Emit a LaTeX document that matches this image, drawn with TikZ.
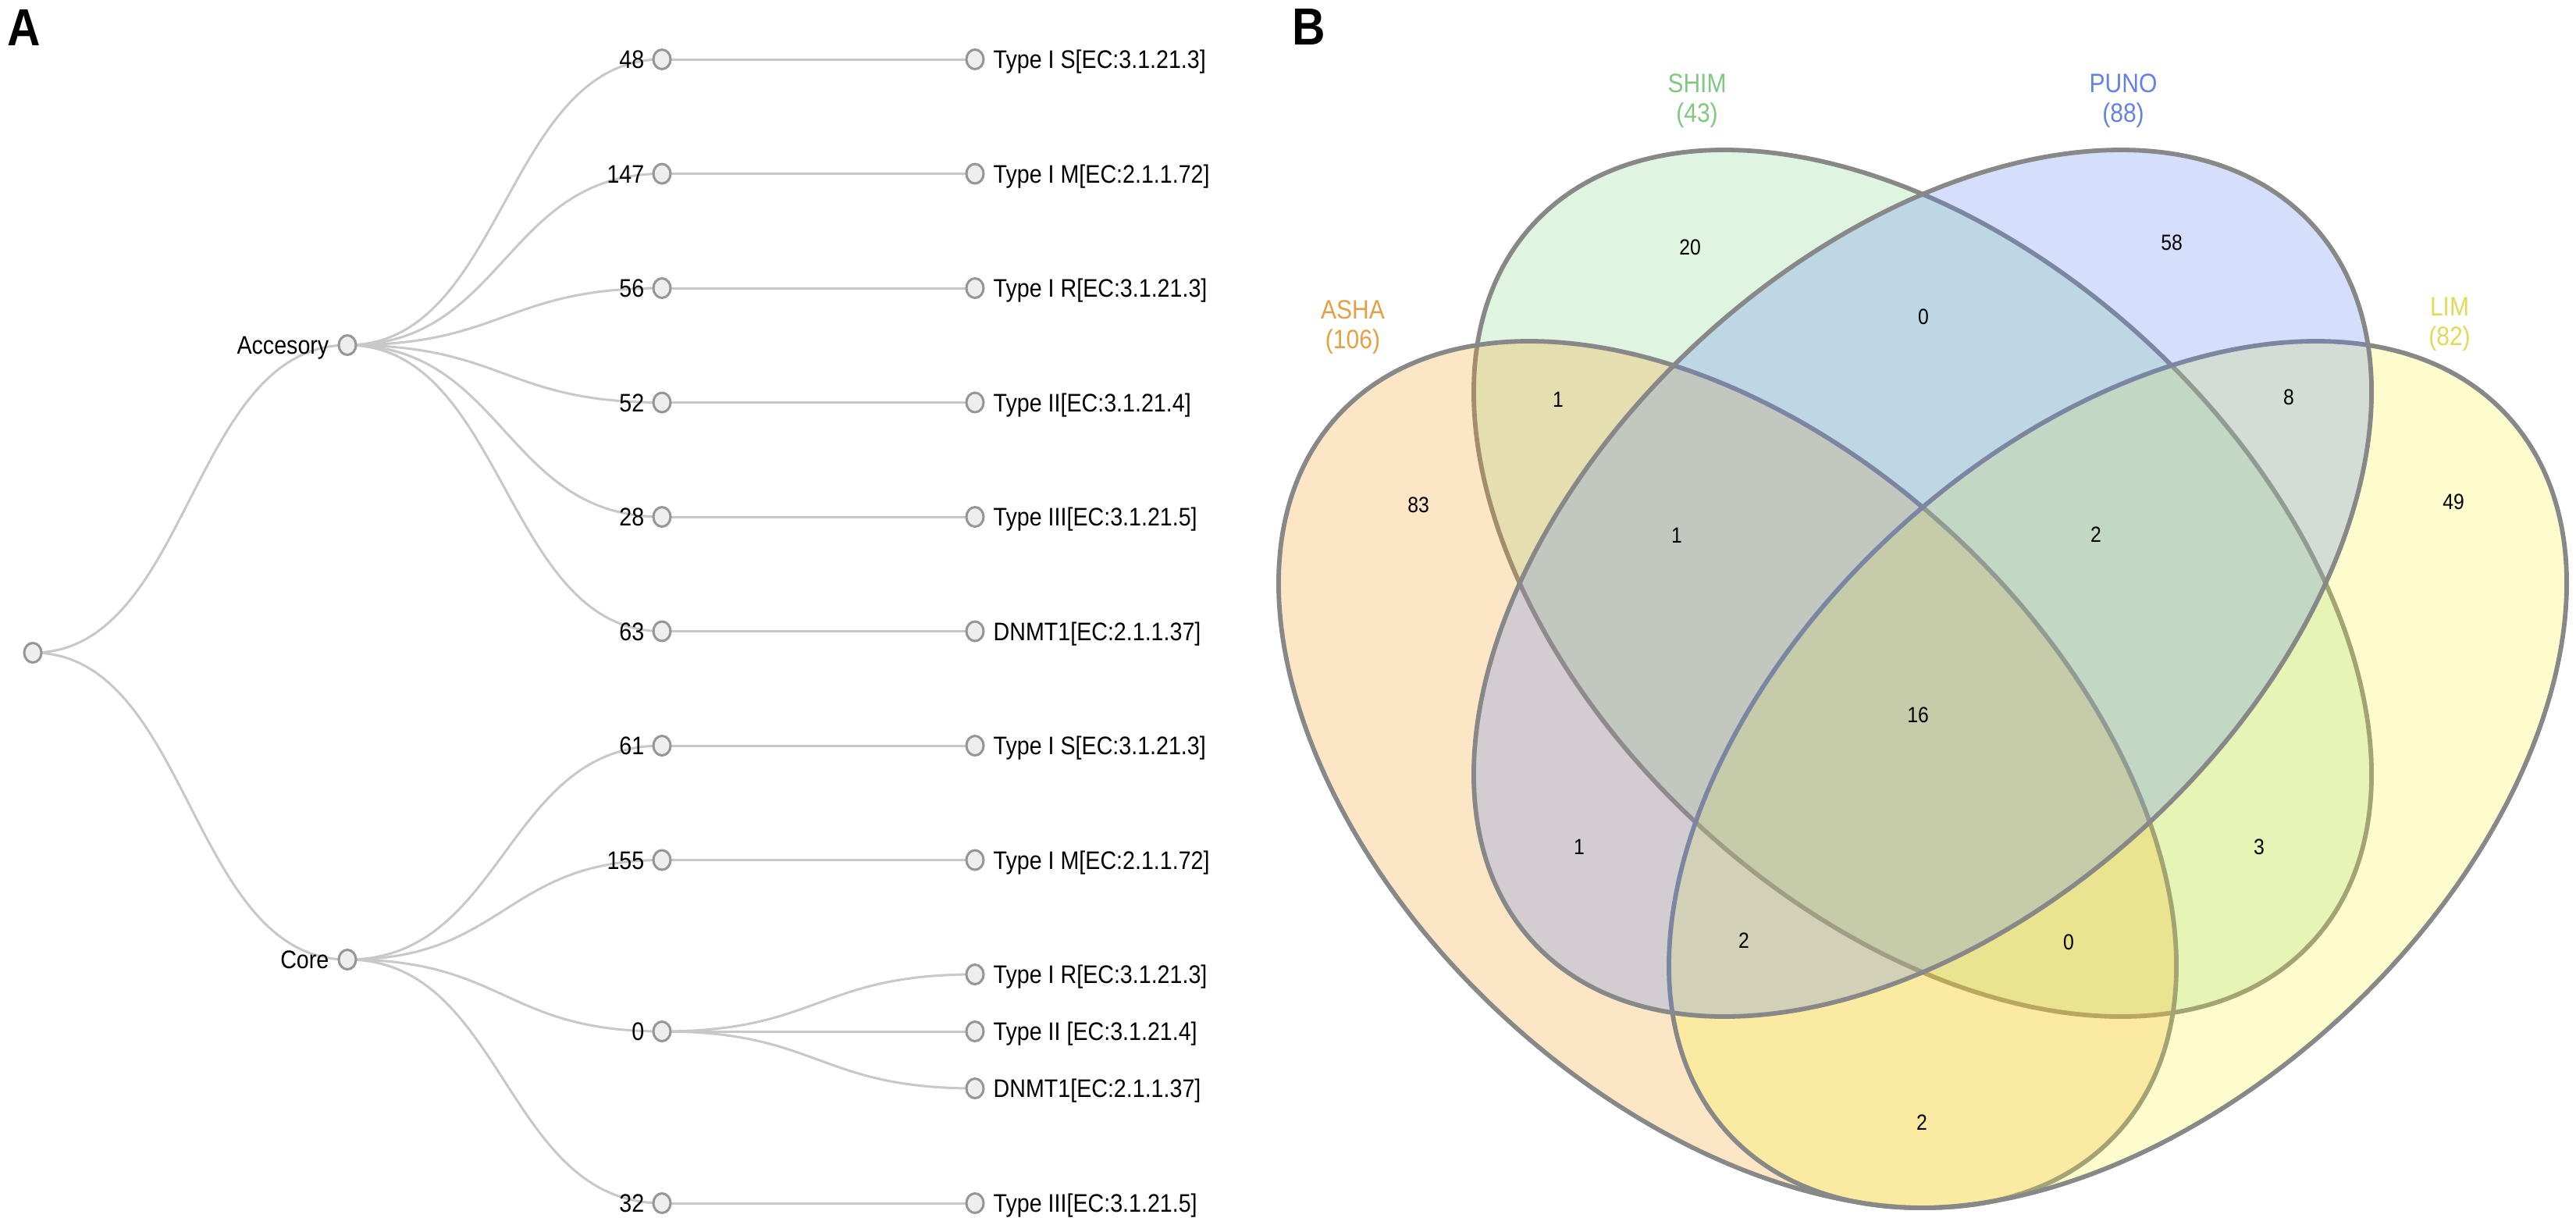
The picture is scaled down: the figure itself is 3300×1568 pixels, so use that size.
\documentclass[tikz,border=0pt]{standalone}
\usepackage{fontspec}
\setmainfont{Liberation Sans}[FakeStretch=0.88]
\usetikzlibrary{shapes.geometric,backgrounds}
\definecolor{linkc}{HTML}{C8C8C8}
\definecolor{nodefill}{HTML}{EEEEEE}
\definecolor{nodedraw}{HTML}{969696}
\definecolor{ashac}{RGB}{247,159,31}
\definecolor{shimc}{RGB}{131,215,139}
\definecolor{punoc}{RGB}{91,131,243}
\definecolor{limc}{RGB}{251,247,55}
\definecolor{ashat}{RGB}{228,160,68}
\definecolor{shimt}{RGB}{128,200,128}
\definecolor{punot}{RGB}{100,130,226}
\definecolor{limt}{RGB}{224,218,86}
\definecolor{vennline}{HTML}{888888}
\begin{document}
\begin{tikzpicture}[x=0.01cm,y=-0.01cm,
  tnode/.style={shape=ellipse,draw=nodedraw,fill=nodefill,line width=0.03cm,minimum width=0.22cm,minimum height=0.25cm,inner sep=0pt},
  link/.style={draw=linkc,line width=0.03cm},
  diag/.style={out=0,in=180,distance=2.015cm},
  tlab/.style={font=\fontsize{9.25}{11}\selectfont,inner sep=0pt},
  numlab/.style={tlab,anchor=base east},
  leaflab/.style={tlab,anchor=base west},
  panel/.style={font=\fontsize{19}{22}\selectfont\bfseries,inner sep=0pt,anchor=base west},
  vset/.style={line width=0.058cm,draw=vennline,fill opacity=0.25},
  vnum/.style={font=\fontsize{8}{9}\selectfont,inner sep=0pt},
  vlab/.style={font=\fontsize{9.7}{11}\selectfont,inner sep=0pt,anchor=base},
]
\useasboundingbox (0,0) rectangle (3300,1568);

% ---------------- Panel A : tree ----------------
\node[panel] (labA) at (9,58) {A};

\node[tnode] (root) at (42,836) {};
\node[tnode] (acc) at (445,442) {};
\node[tnode] (core) at (445,1229) {};

\node[tnode] (a1) at (848,76) {};
\node[tnode] (a2) at (848,222.5) {};
\node[tnode] (a3) at (848,369) {};
\node[tnode] (a4) at (848,515.5) {};
\node[tnode] (a5) at (848,662) {};
\node[tnode] (a6) at (848,808.5) {};
\node[tnode] (c1) at (848,955) {};
\node[tnode] (c2) at (848,1101.5) {};
\node[tnode] (c3) at (848,1321) {};
\node[tnode] (c4) at (848,1541) {};

\node[tnode] (la1) at (1249,76) {};
\node[tnode] (la2) at (1249,222.5) {};
\node[tnode] (la3) at (1249,369) {};
\node[tnode] (la4) at (1249,515.5) {};
\node[tnode] (la5) at (1249,662) {};
\node[tnode] (la6) at (1249,808.5) {};
\node[tnode] (lc1) at (1249,955) {};
\node[tnode] (lc2) at (1249,1101.5) {};
\node[tnode] (lc3) at (1249,1248) {};
\node[tnode] (lc4) at (1249,1321) {};
\node[tnode] (lc5) at (1249,1394) {};
\node[tnode] (lc6) at (1249,1541) {};

\begin{scope}[on background layer]
  \fill[white] (0,0) rectangle (3300,1568);
  \draw[link] (root.center) to[diag] (acc.center);
  \draw[link] (root.center) to[diag] (core.center);
  \foreach \t in {a1,a2,a3,a4,a5,a6} \draw[link] (acc.center) to[diag] (\t.center);
  \foreach \t in {c1,c2,c3,c4} \draw[link] (core.center) to[diag] (\t.center);
  \foreach \s/\t in {a1/la1,a2/la2,a3/la3,a4/la4,a5/la5,a6/la6,c1/lc1,c2/lc2,c3/lc3,c3/lc4,c3/lc5,c4/lc6}
    \draw[link] (\s.center) to[diag] (\t.center);
\end{scope}

\node[numlab] (tacc) at (422,453.6) {Accesory};
\node[numlab] (tcore) at (422,1240.6) {Core};

\node[numlab] (na1) at (826,87.6) {48};
\node[numlab] (na2) at (826,234.1) {147};
\node[numlab] (na3) at (826,380.6) {56};
\node[numlab] (na4) at (826,527.1) {52};
\node[numlab] (na5) at (826,673.6) {28};
\node[numlab] (na6) at (826,820.1) {63};
\node[numlab] (nc1) at (826,966.6) {61};
\node[numlab] (nc2) at (826,1113.1) {155};
\node[numlab] (nc3) at (826,1332.6) {0};
\node[numlab] (nc4) at (826,1552.6) {32};

\node[leaflab] (ta1) at (1272,87.6) {Type I S[EC:3.1.21.3]};
\node[leaflab] (ta2) at (1272,234.1) {Type I M[EC:2.1.1.72]};
\node[leaflab] (ta3) at (1272,380.6) {Type I R[EC:3.1.21.3]};
\node[leaflab] (ta4) at (1272,527.1) {Type II[EC:3.1.21.4]};
\node[leaflab] (ta5) at (1272,673.6) {Type III[EC:3.1.21.5]};
\node[leaflab] (ta6) at (1272,820.1) {DNMT1[EC:2.1.1.37]};
\node[leaflab] (tc1) at (1272,966.6) {Type I S[EC:3.1.21.3]};
\node[leaflab] (tc2) at (1272,1113.1) {Type I M[EC:2.1.1.72]};
\node[leaflab] (tc3) at (1272,1259.6) {Type I R[EC:3.1.21.3]};
\node[leaflab] (tc4) at (1272,1332.6) {Type II [EC:3.1.21.4]};
\node[leaflab] (tc5) at (1272,1405.6) {DNMT1[EC:2.1.1.37]};
\node[leaflab] (tc6) at (1272,1552.6) {Type III[EC:3.1.21.5]};

% ---------------- Panel B : Venn ----------------
\node[panel] (labB) at (1655,57) {B};

\path[vset,fill=shimc,rotate around={-42.7:(2463,747)}] (2463,747) ellipse [x radius=678.5,y radius=422.2];
\path[vset,fill=ashac,rotate around={-42.7:(2213,992)}] (2213,992) ellipse [x radius=678.5,y radius=422.2];
\path[vset,fill=limc,rotate around={42.7:(2713,992)}] (2713,992) ellipse [x radius=678.5,y radius=422.2];
\path[vset,fill=punoc,rotate around={42.7:(2463,747)}] (2463,747) ellipse [x radius=678.5,y radius=422.2];

\node[vlab,text=ashat] (nasha) at (1733,408) {ASHA};
\node[vlab,text=ashat] (casha) at (1733,446) {(106)};
\node[vlab,text=shimt] (nshim) at (2174,118) {SHIM};
\node[vlab,text=shimt] (cshim) at (2174,156) {(43)};
\node[vlab,text=punot] (npuno) at (2720,118) {PUNO};
\node[vlab,text=punot] (cpuno) at (2720,156) {(88)};
\node[vlab,text=limt] (nlim) at (3138,404) {LIM};
\node[vlab,text=limt] (clim) at (3138,442) {(82)};

\node[vnum] (v20) at (2165,317) {20};
\node[vnum] (v58) at (2782,311) {58};
\node[vnum] (vsp) at (2464,406) {0};
\node[vnum] (vas) at (1996,512) {1};
\node[vnum] (vpl) at (2932,509) {8};
\node[vnum] (v83) at (1817,647) {83};
\node[vnum] (v49) at (3143,643) {49};
\node[vnum] (vasp) at (2148,686) {1};
\node[vnum] (vspl) at (2685,685) {2};
\node[vnum] (v16) at (2457,916) {16};
\node[vnum] (vap) at (2023,1085) {1};
\node[vnum] (vsl) at (2894,1085) {3};
\node[vnum] (vapl) at (2234,1205) {2};
\node[vnum] (vasl) at (2650,1207) {0};
\node[vnum] (val) at (2462,1438) {2};
\end{tikzpicture}
\end{document}
